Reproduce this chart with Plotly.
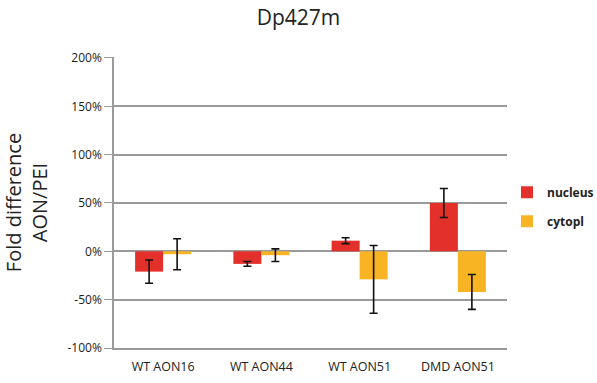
import plotly.graph_objects as go

categories = ["WT AON16", "WT AON44", "WT AON51", "DMD AON51"]
nucleus = [-21, -13, 11, 50]
nucleus_err = [12, 2.5, 3, 15]
cytopl = [-3, -4, -29, -42]
cytopl_err = [16, 6.5, 35, 18]
y_ticks = [-100, -50, 0, 50, 100, 150, 200]
y_ticktext = ["-100%", "-50%", "0%", "50%", "100%", "150%", "200%"]

fig = go.Figure()
fig.add_trace(go.Bar(
    x=categories, y=nucleus, name="nucleus", legendgroup="n",
    marker=dict(color="#E3302B", line_width=0),
    error_y=dict(type="data", array=nucleus_err, color="#111111", thickness=1.6, width=4),
))
fig.add_trace(go.Bar(
    x=categories, y=cytopl, name="cytopl", legendgroup="c",
    marker=dict(color="#F9B423", line_width=0),
    error_y=dict(type="data", array=cytopl_err, color="#111111", thickness=1.6, width=4),
))

fig.update_layout(
    width=597, height=383,
    margin=dict(l=114, r=90, t=57, b=35, autoexpand=False),
    paper_bgcolor="white", plot_bgcolor="white",
    barmode="group", bargap=0.43, bargroupgap=0,
    font=dict(family="Open Sans", color="#222222"),
    title=dict(text="Dp427m", x=0.5, xanchor="center", y=0.955, yanchor="middle",
               font=dict(size=21, color="#222222")),
    legend=dict(x=1.0, y=0.485, xanchor="left", yanchor="middle",
                font=dict(size=12, color="#222222", weight="bold"),
                itemwidth=30, tracegroupgap=10, bgcolor="rgba(0,0,0,0)"),
    showlegend=True,
)
fig.update_xaxes(
    showline=True, linecolor="#9a9a9a", linewidth=1.5,
    showgrid=False, ticks="", ticklabelstandoff=6, automargin=False,
    tickfont=dict(size=12.5, color="#222222"),
)
fig.update_yaxes(
    range=[-100, 201], tickvals=y_ticks, ticktext=y_ticktext, automargin=False,
    showgrid=True, gridcolor="#9a9a9a", gridwidth=1.5,
    zeroline=True, zerolinecolor="#9a9a9a", zerolinewidth=1.5,
    showline=True, linecolor="#9a9a9a", linewidth=1.5,
    ticks="outside", ticklen=8, tickcolor="#9a9a9a",
    tickfont=dict(size=12, color="#222222"),
    title=dict(text="Fold difference<br>AON/PEI", font=dict(size=20, color="#222222"), standoff=14),
)
fig.write_html("out.html")
